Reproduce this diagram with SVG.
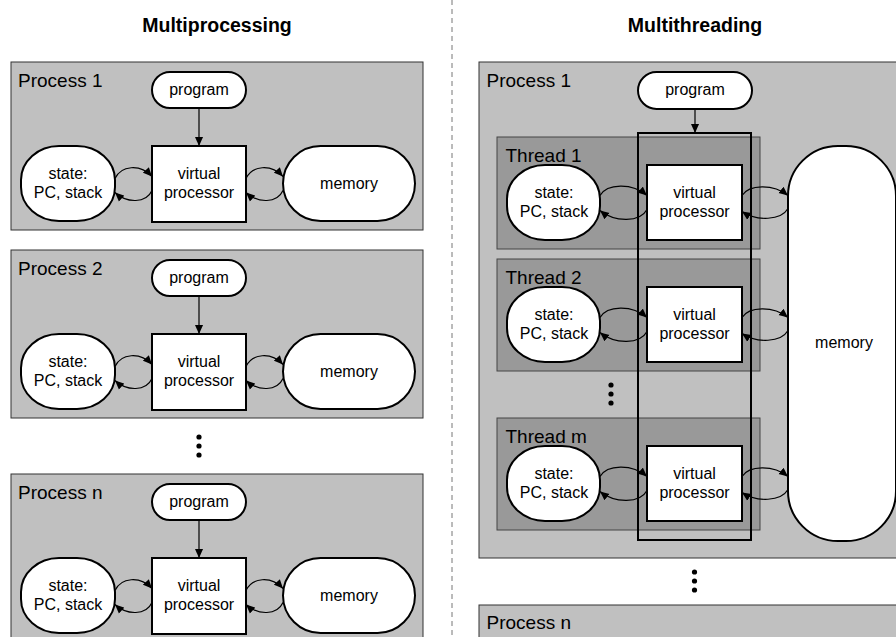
<svg xmlns="http://www.w3.org/2000/svg" width="896" height="637" viewBox="0 0 896 637">
<style>
text{font-family:"Liberation Sans",Arial,Helvetica,sans-serif;fill:#000}
.title{font-size:19.5px;font-weight:bold;text-anchor:middle}
.plabel{font-size:19px}
.lbl{font-size:16px;text-anchor:middle}
.proc{fill:#c0c0c0;stroke:#333;stroke-width:1}
.thread{fill:#999;stroke:#444;stroke-width:1}
.node{fill:#fff;stroke:#000;stroke-width:2}
.group{fill:none;stroke:#000;stroke-width:2}
.dot{fill:#000}
#connectors path{fill:none;stroke:#000;stroke-width:1.2;marker-end:url(#ah)}
</style>
<defs>
<marker id="ah" viewBox="0 0 10 10" refX="10" refY="5" markerWidth="9" markerHeight="9" markerUnits="userSpaceOnUse" orient="auto">
<path d="M0,0.5 L10,5 L0,9.5 z" fill="#000"/>
</marker>
</defs>
<rect width="896" height="637" fill="#fff"/>
<line x1="452" y1="0" x2="452" y2="637" stroke="#777" stroke-width="1" stroke-dasharray="5,4"/>
<text class="title" x="217" y="32">Multiprocessing</text>
<text class="title" x="695" y="32">Multithreading</text>

<!-- Left: Process 1 -->
<g id="mp-process1">
<rect class="proc" x="11" y="62" width="412" height="168"/>
<text class="plabel" x="18" y="86.7">Process 1</text>
</g>
<g id="mp-p1-program"><rect class="node" x="152" y="72" width="94" height="36" rx="18"/><text class="lbl" x="199" y="94.5">program</text></g>
<g id="mp-p1-vp"><rect class="node" x="152" y="146" width="94" height="76"/><text class="lbl" x="199" y="179">virtual</text><text class="lbl" x="199" y="198">processor</text></g>
<g id="mp-p1-state"><rect class="node" x="21" y="146" width="94" height="75" rx="38" ry="34"/><text class="lbl" x="68" y="179">state:</text><text class="lbl" x="68" y="198">PC, stack</text></g>
<g id="mp-p1-memory"><rect class="node" x="283" y="146" width="132" height="75" rx="37.5"/><text class="lbl" x="349" y="189">memory</text></g>

<!-- Left: Process 2 -->
<g id="mp-process2">
<rect class="proc" x="11" y="250" width="412" height="168"/>
<text class="plabel" x="18" y="274.7">Process 2</text>
</g>
<g id="mp-p2-program"><rect class="node" x="152" y="260" width="94" height="36" rx="18"/><text class="lbl" x="199" y="282.5">program</text></g>
<g id="mp-p2-vp"><rect class="node" x="152" y="334" width="94" height="76"/><text class="lbl" x="199" y="367">virtual</text><text class="lbl" x="199" y="386">processor</text></g>
<g id="mp-p2-state"><rect class="node" x="21" y="334" width="94" height="75" rx="38" ry="34"/><text class="lbl" x="68" y="367">state:</text><text class="lbl" x="68" y="386">PC, stack</text></g>
<g id="mp-p2-memory"><rect class="node" x="283" y="334" width="132" height="75" rx="37.5"/><text class="lbl" x="349" y="377">memory</text></g>

<g id="mp-dots"><circle class="dot" cx="199" cy="437" r="2.6"/><circle class="dot" cx="199" cy="446" r="2.6"/><circle class="dot" cx="199" cy="455" r="2.6"/></g>

<!-- Left: Process n -->
<g id="mp-processn">
<rect class="proc" x="11" y="474" width="412" height="168"/>
<text class="plabel" x="18" y="498.7">Process n</text>
</g>
<g id="mp-pn-program"><rect class="node" x="152" y="484" width="94" height="36" rx="18"/><text class="lbl" x="199" y="506.5">program</text></g>
<g id="mp-pn-vp"><rect class="node" x="152" y="558" width="94" height="76"/><text class="lbl" x="199" y="591">virtual</text><text class="lbl" x="199" y="610">processor</text></g>
<g id="mp-pn-state"><rect class="node" x="21" y="558" width="94" height="75" rx="38" ry="34"/><text class="lbl" x="68" y="591">state:</text><text class="lbl" x="68" y="610">PC, stack</text></g>
<g id="mp-pn-memory"><rect class="node" x="283" y="558" width="132" height="75" rx="37.5"/><text class="lbl" x="349" y="601">memory</text></g>

<!-- Right: Process 1 -->
<g id="mt-process1">
<rect class="proc" x="479" y="62" width="432" height="496"/>
<text class="plabel" x="486.5" y="86.7">Process 1</text>
</g>
<g id="mt-program"><rect class="node" x="638" y="72" width="114" height="37" rx="18.5"/><text class="lbl" x="695" y="95">program</text></g>

<g id="mt-thread1"><rect class="thread" x="497" y="137" width="263" height="112"/><text class="plabel" x="505.5" y="161.5">Thread 1</text></g>
<g id="mt-thread2"><rect class="thread" x="497" y="259" width="263" height="112"/><text class="plabel" x="505.5" y="283.5">Thread 2</text></g>
<g id="mt-threadm"><rect class="thread" x="497" y="418" width="263" height="112"/><text class="plabel" x="505.5" y="442.5">Thread m</text></g>
<g id="mt-thread-dots"><circle class="dot" cx="611" cy="385" r="2.6"/><circle class="dot" cx="611" cy="394" r="2.6"/><circle class="dot" cx="611" cy="403" r="2.6"/></g>

<g id="mt-vp-group"><rect class="group" x="638" y="133" width="113" height="407"/></g>

<g id="mt-t1-state"><rect class="node" x="507" y="165" width="93" height="75" rx="38" ry="34"/><text class="lbl" x="554" y="198">state:</text><text class="lbl" x="554" y="217">PC, stack</text></g>
<g id="mt-t1-vp"><rect class="node" x="647" y="165" width="95" height="75"/><text class="lbl" x="694.5" y="198">virtual</text><text class="lbl" x="694.5" y="217">processor</text></g>
<g id="mt-t2-state"><rect class="node" x="507" y="287" width="93" height="75" rx="38" ry="34"/><text class="lbl" x="554" y="320">state:</text><text class="lbl" x="554" y="339">PC, stack</text></g>
<g id="mt-t2-vp"><rect class="node" x="647" y="287" width="95" height="75"/><text class="lbl" x="694.5" y="320">virtual</text><text class="lbl" x="694.5" y="339">processor</text></g>
<g id="mt-tm-state"><rect class="node" x="507" y="446" width="93" height="75" rx="38" ry="34"/><text class="lbl" x="554" y="479">state:</text><text class="lbl" x="554" y="498">PC, stack</text></g>
<g id="mt-tm-vp"><rect class="node" x="647" y="446" width="95" height="75"/><text class="lbl" x="694.5" y="479">virtual</text><text class="lbl" x="694.5" y="498">processor</text></g>

<g id="mt-memory"><rect class="node" x="788" y="146" width="108" height="395" rx="50"/><text class="lbl" x="844" y="348">memory</text></g>

<g id="mt-process-dots"><circle class="dot" cx="694.5" cy="572" r="2.6"/><circle class="dot" cx="694.5" cy="581" r="2.6"/><circle class="dot" cx="694.5" cy="590" r="2.6"/></g>

<g id="mt-processn">
<rect class="proc" x="479" y="605" width="432" height="60"/>
<text class="plabel" x="486.5" y="629.3">Process n</text>
</g>

<g id="connectors">
<path d="M199,108 L199,146"/>
<path d="M199,296 L199,334"/>
<path d="M199,520 L199,558"/>
<path d="M115,178.5 C121,165.5 140,163.5 152,176.5"/>
<path d="M152,190.5 C146,203.5 127,203.5 115,192.5"/>
<path d="M246,178.5 C252,165.5 271,163.5 283,176.5"/>
<path d="M283,190.5 C277,203.5 258,203.5 246,192.5"/>
<path d="M115,366.5 C121,353.5 140,351.5 152,364.5"/>
<path d="M152,378.5 C146,391.5 127,391.5 115,380.5"/>
<path d="M246,366.5 C252,353.5 271,351.5 283,364.5"/>
<path d="M283,378.5 C277,391.5 258,391.5 246,380.5"/>
<path d="M115,590.5 C121,577.5 140,575.5 152,588.5"/>
<path d="M152,602.5 C146,615.5 127,615.5 115,604.5"/>
<path d="M246,590.5 C252,577.5 271,575.5 283,588.5"/>
<path d="M283,602.5 C277,615.5 258,615.5 246,604.5"/>
<path d="M695,109 L695,133"/>
<path d="M600,195.5 C607,183.5 632,182.5 647,195.5"/>
<path d="M647,209.5 C640,222.5 615,222.5 600,210.5"/>
<path d="M742,195.5 C749,184.5 773,183.5 788,195.5"/>
<path d="M788,208.5 C781,220.5 757,221.5 742,211.5"/>
<path d="M600,317.5 C607,305.5 632,304.5 647,317.5"/>
<path d="M647,331.5 C640,344.5 615,344.5 600,332.5"/>
<path d="M742,317.5 C749,306.5 773,305.5 788,317.5"/>
<path d="M788,330.5 C781,342.5 757,343.5 742,333.5"/>
<path d="M600,476.5 C607,464.5 632,463.5 647,476.5"/>
<path d="M647,490.5 C640,503.5 615,503.5 600,491.5"/>
<path d="M742,476.5 C749,465.5 773,464.5 788,476.5"/>
<path d="M788,489.5 C781,501.5 757,502.5 742,492.5"/>
</g>
</svg>
